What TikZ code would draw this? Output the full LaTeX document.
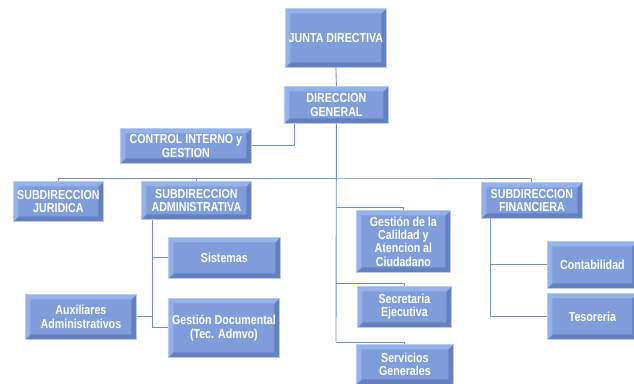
\documentclass[tikz,border=0pt]{standalone}
\usepackage{fontspec}
\setmainfont{Liberation Sans}[FakeStretch=0.82]
\usepackage{tikz}
\usetikzlibrary{calc,positioning}
\usepackage{xcolor}

\definecolor{boxfill}{RGB}{127,157,219}
\definecolor{boxlight}{RGB}{150,177,232}
\definecolor{boxdark}{RGB}{100,128,192}
\definecolor{boxedge}{RGB}{184,203,241}
\definecolor{linkblue}{RGB}{112,140,205}

\tikzset{
  cargo/.style={draw=boxedge, line width=0.8pt, fill=boxfill, text=white, anchor=north west,
    font=\bfseries\fontsize{13}{13.4}\selectfont, align=center, inner sep=1pt,
    path picture={
      \fill[boxdark] (path picture bounding box.north east) -- (path picture bounding box.south east)
        -- (path picture bounding box.south west) -- ++(5pt,5pt)
        -| ($(path picture bounding box.north east)+(-5pt,-5pt)$) -- cycle;
      \fill[boxlight] (path picture bounding box.south west) -- (path picture bounding box.north west)
        -- (path picture bounding box.north east) -- ++(-5pt,-5pt)
        -| ($(path picture bounding box.south west)+(5pt,5pt)$) -- cycle;
    }},
  link/.style={draw=linkblue, line width=0.9pt}
}

\begin{document}
\begin{tikzpicture}[x=1pt,y=-1pt]
    \useasboundingbox (0,0) rectangle (634,383);

    % top
    \node[cargo, minimum width=101pt, minimum height=59pt] (junta) at (285,8) {JUNTA DIRECTIVA};
    \node[cargo, minimum width=104pt, minimum height=37pt] (direccion) at (284,86) {DIRECCION\\GENERAL};
    \node[cargo, minimum width=131pt, minimum height=35pt] (control) at (120,128) {CONTROL INTERNO y\\GESTION};

    % subdirecciones
    \node[cargo, minimum width=90pt, minimum height=40pt] (juridica) at (13,181) {SUBDIRECCION\\JURIDICA};
    \node[cargo, minimum width=110pt, minimum height=38pt] (admin) at (141,181) {SUBDIRECCION\\ADMINISTRATIVA};
    \node[cargo, minimum width=101pt, minimum height=36pt] (financiera) at (481,182) {SUBDIRECCION\\FINANCIERA};

    % admin branch
    \node[cargo, minimum width=112pt, minimum height=41pt] (sistemas) at (168,237) {Sistemas};
    \node[cargo, minimum width=111pt, minimum height=59pt] (gdoc) at (168,298) {Gestión Documental\\(Tec. Admvo)};
    \node[cargo, minimum width=111pt, minimum height=45pt] (auxiliares) at (25,294) {Auxiliares\\Administrativos};

    % center branch
    \node[cargo, minimum width=94pt, minimum height=62pt] (calidad) at (356,210) {Gestión de la\\Calildad y\\Atencion al\\Ciudadano};
    \node[cargo, minimum width=94pt, minimum height=41pt] (secretaria) at (357,286) {Secretaria\\Ejecutiva};
    \node[cargo, minimum width=97pt, minimum height=40pt] (servicios) at (356,344) {Servicios\\Generales};

    % finance branch
    \node[cargo, minimum width=90pt, minimum height=47pt] (contabilidad) at (547,241) {Contabilidad};
    \node[cargo, minimum width=90pt, minimum height=46pt] (tesoreria) at (547,293) {Tesoreria};

    % spine points
    \coordinate (bus) at (336,178);
    \coordinate (sp1) at (336,207);
    \coordinate (sp2) at (336,283);
    \coordinate (sp3) at (336,342);
    \coordinate (aspine) at ([xshift=-44pt]admin.south);
    \coordinate (fspine) at ([xshift=-41.5pt]financiera.south);

    % connectors
    \draw[link] (junta.south) -- (direccion.north);
    \draw[link] (direccion.south) -- (sp3);
    \draw[link] (control.east) -| ([xshift=-42pt]direccion.south);
    \draw[link] (juridica.north) |- (bus) -| (financiera.north);
    \draw[link] (admin.north) |- (bus);
    \draw[link] (sp1) -| (calidad.north);
    \draw[link] (sp2) -| (secretaria.north);
    \draw[link] (sp3) -| (servicios.north);
    \draw[link] (gdoc.west) -| (aspine);
    \draw[link] (sistemas.west) -- (sistemas.west -| aspine);
    \draw[link] (auxiliares.east) -- (auxiliares.east -| aspine);
    \draw[link] (tesoreria.west) -| (fspine);
    \draw[link] (contabilidad.west) -- (contabilidad.west -| fspine);
\end{tikzpicture}
\end{document}
